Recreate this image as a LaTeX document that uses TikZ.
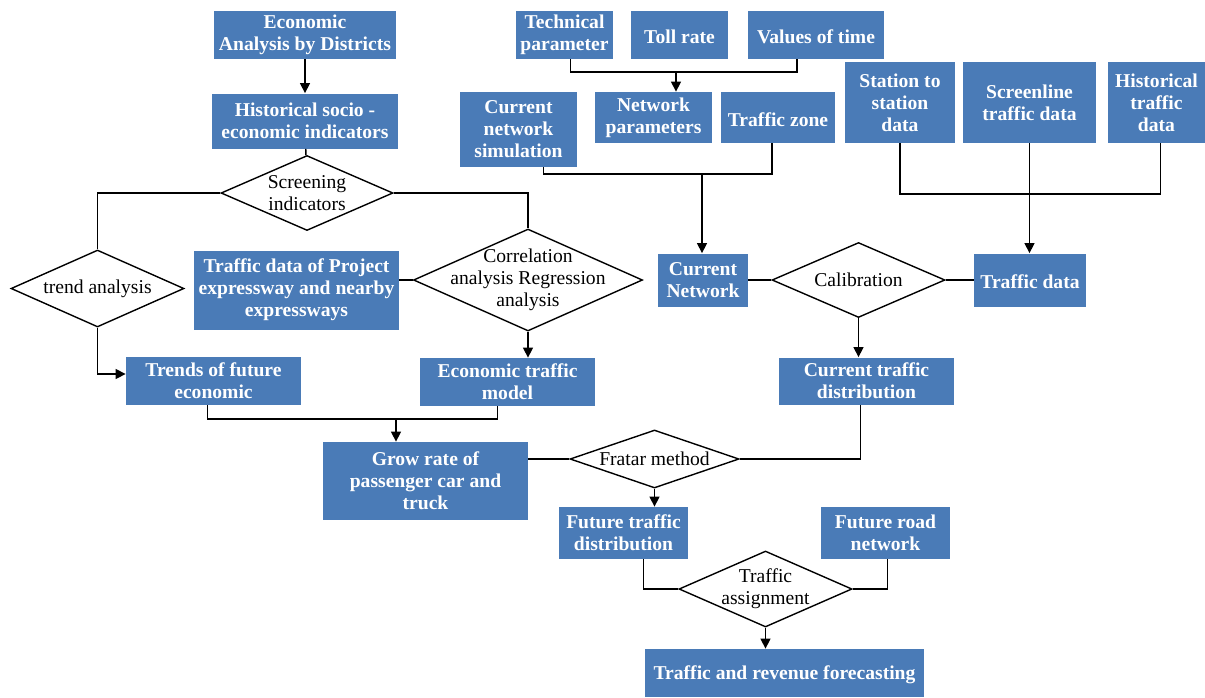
\documentclass[tikz,border=0pt]{standalone}
\usepackage{fontspec}
\setmainfont{Liberation Serif}
\usetikzlibrary{shapes.geometric,arrows.meta}
\definecolor{boxblue}{HTML}{4A7BB7}

\begin{document}
\begin{tikzpicture}[x=0.5pt,y=-0.5pt,
		dims/.style 2 args={minimum width=#1*0.5pt,minimum height=#2*0.5pt},
		box/.style={fill=boxblue,text=white,font=\bfseries\fontsize{9.8}{11}\selectfont,align=center,inner sep=0pt,
			execute at begin node={\rule{0pt}{8.6pt}}},
		dia/.style={diamond,draw,line width=0.7pt,inner sep=0pt},
		dtext/.style={font=\fontsize{9.8}{11}\selectfont,align=center},
		line/.style={line width=0.7pt},
		arr/.style={line,-{Triangle[length=5pt,width=5pt]}}]
		\useasboundingbox (0,0) rectangle (1205,697);
		% left column
		\node[box,dims={182}{48}] (econ) at (305,35) {Economic\\Analysis by Districts};
		\node[box,dims={186}{55}] (hist) at (305,121) {Historical socio -\\economic indicators};
		\node[dia,dims={172}{75},label={[dtext]center:{Screening\\indicators}}] (screen) at (307,193) {};
		\node[dia,dims={173}{77},label={[dtext]center:{trend analysis}}] (trend) at (97.5,288.5) {};
		\node[box,dims={205}{79}] (tdp) at (296.5,290) {Traffic data of Project\\expressway and nearby\\expressways};
		\node[dia,dims={229}{102},label={[dtext]center:{Correlation\\analysis Regression\\analysis}}] (corr) at (528,280) {};
		\node[box,dims={175}{48}] (trends) at (213.5,381) {Trends of future\\economic};
		\node[box,dims={175}{48}] (etm) at (507.5,382) {Economic traffic\\model};
		\node[box,dims={205}{78}] (grow) at (425.5,481) {Grow rate of\\passenger car and\\truck};
		% middle column
		\node[box,dims={97}{48}] (tech) at (564.5,35) {Technical\\parameter};
		\node[box,dims={97}{48}] (toll) at (679.5,35) {Toll rate};
		\node[box,dims={136}{48}] (vot) at (816,35) {Values of time};
		\node[box,dims={117}{75}] (cns) at (518.5,129.5) {Current\\network\\simulation};
		\node[box,dims={117}{51}] (netp) at (653.5,117.5) {Network\\parameters};
		\node[box,dims={114}{51}] (tzone) at (778,117.5) {Traffic zone};
		\node[box,dims={90}{53}] (curnet) at (703,280) {Current\\Network};
		\node[dia,dims={173}{75},label={[dtext]center:{Calibration}}] (calib) at (858.5,280) {};
		\node[box,dims={175}{47}] (ctd) at (866.5,381) {Current traffic\\distribution};
		\node[dia,dims={169}{58},label={[dtext]center:{Fratar method}}] (fratar) at (654.5,459) {};
		\node[box,dims={129}{52}] (ftd) at (623.5,533) {Future traffic\\distribution};
		\node[box,dims={129}{52}] (frn) at (885.5,533) {Future road\\network};
		\node[dia,dims={173}{76},label={[dtext]center:{Traffic\\assignment}}] (assign) at (765.5,589) {};
		\node[box,dims={279}{48}] (final) at (784.5,673) {Traffic and revenue forecasting};
		% right column
		\node[box,dims={110}{81}] (sts) at (900,102.5) {Station to\\station\\data};
		\node[box,dims={133}{81}] (scr) at (1029.5,102.5) {Screenline\\traffic data};
		\node[box,dims={97}{81}] (htd) at (1156.5,102.5) {Historical\\traffic\\data};
		\node[box,dims={112}{53}] (tdata) at (1030,280) {Traffic data};
		% junctions
		\coordinate (gjoin) at (396,419);
		\coordinate (tjoin) at (676,72);
		\coordinate (cjoin) at (702,174);
		\coordinate (sjoin) at (1029,194);
		%
		% left connectors
		\draw[arr] (econ) -- (hist);
		\draw[line] (hist) -- (screen);
		\draw[line] (screen.west) -| (trend.north);
		\draw[line] (screen.east) -| (corr.north);
		\draw[arr] (trend.south) |- ([yshift=3.5pt]trends.west);
		\draw[line] (tdp.east |- corr.west) -- (corr.west);
		\draw[arr] (corr.south) -- (corr.south |- etm.north);
		\draw[line] ([xshift=-3pt]trends.south) |- ([xshift=-5pt]etm.south |- gjoin) -- ([xshift=-5pt]etm.south);
		\draw[arr] (gjoin) -- (gjoin |- grow.north);
		\draw[line] (grow.east |- fratar.west) -- (fratar.west);
		% middle connectors
		\draw[line] ([xshift=3pt]tech.south) |- (tjoin) -| ([xshift=-9.5pt]vot.south);
		\draw[arr] (tjoin) -- (tjoin |- netp.north);
		\draw[line] ([xshift=12.5pt]cns.south) |- (cjoin) -| ([xshift=-3pt]tzone.south);
		\draw[arr] (cjoin) -- (cjoin |- curnet.north);
		\draw[line] (curnet.east) -- (calib.west);
		\draw[line] (calib.east) -- (tdata.west);
		\draw[arr] (calib.south) -- (calib.south |- ctd.north);
		\draw[line] (fratar.east) -| ([xshift=-3pt]ctd.south);
		\draw[arr] (fratar.south) -- (fratar.south |- ftd.north);
		\draw[line] ([xshift=10pt]ftd.south) |- (assign.west);
		\draw[line] ([xshift=1pt]frn.south) |- (assign.east);
		\draw[arr] (assign.south) -- (assign.south |- final.north);
		% right connectors
		\draw[line] (sts.south) |- (sjoin) -| ([xshift=2pt]htd.south);
		\draw[arr] (scr.south) -- (scr.south |- tdata.north);
	\end{tikzpicture}
\end{document}
